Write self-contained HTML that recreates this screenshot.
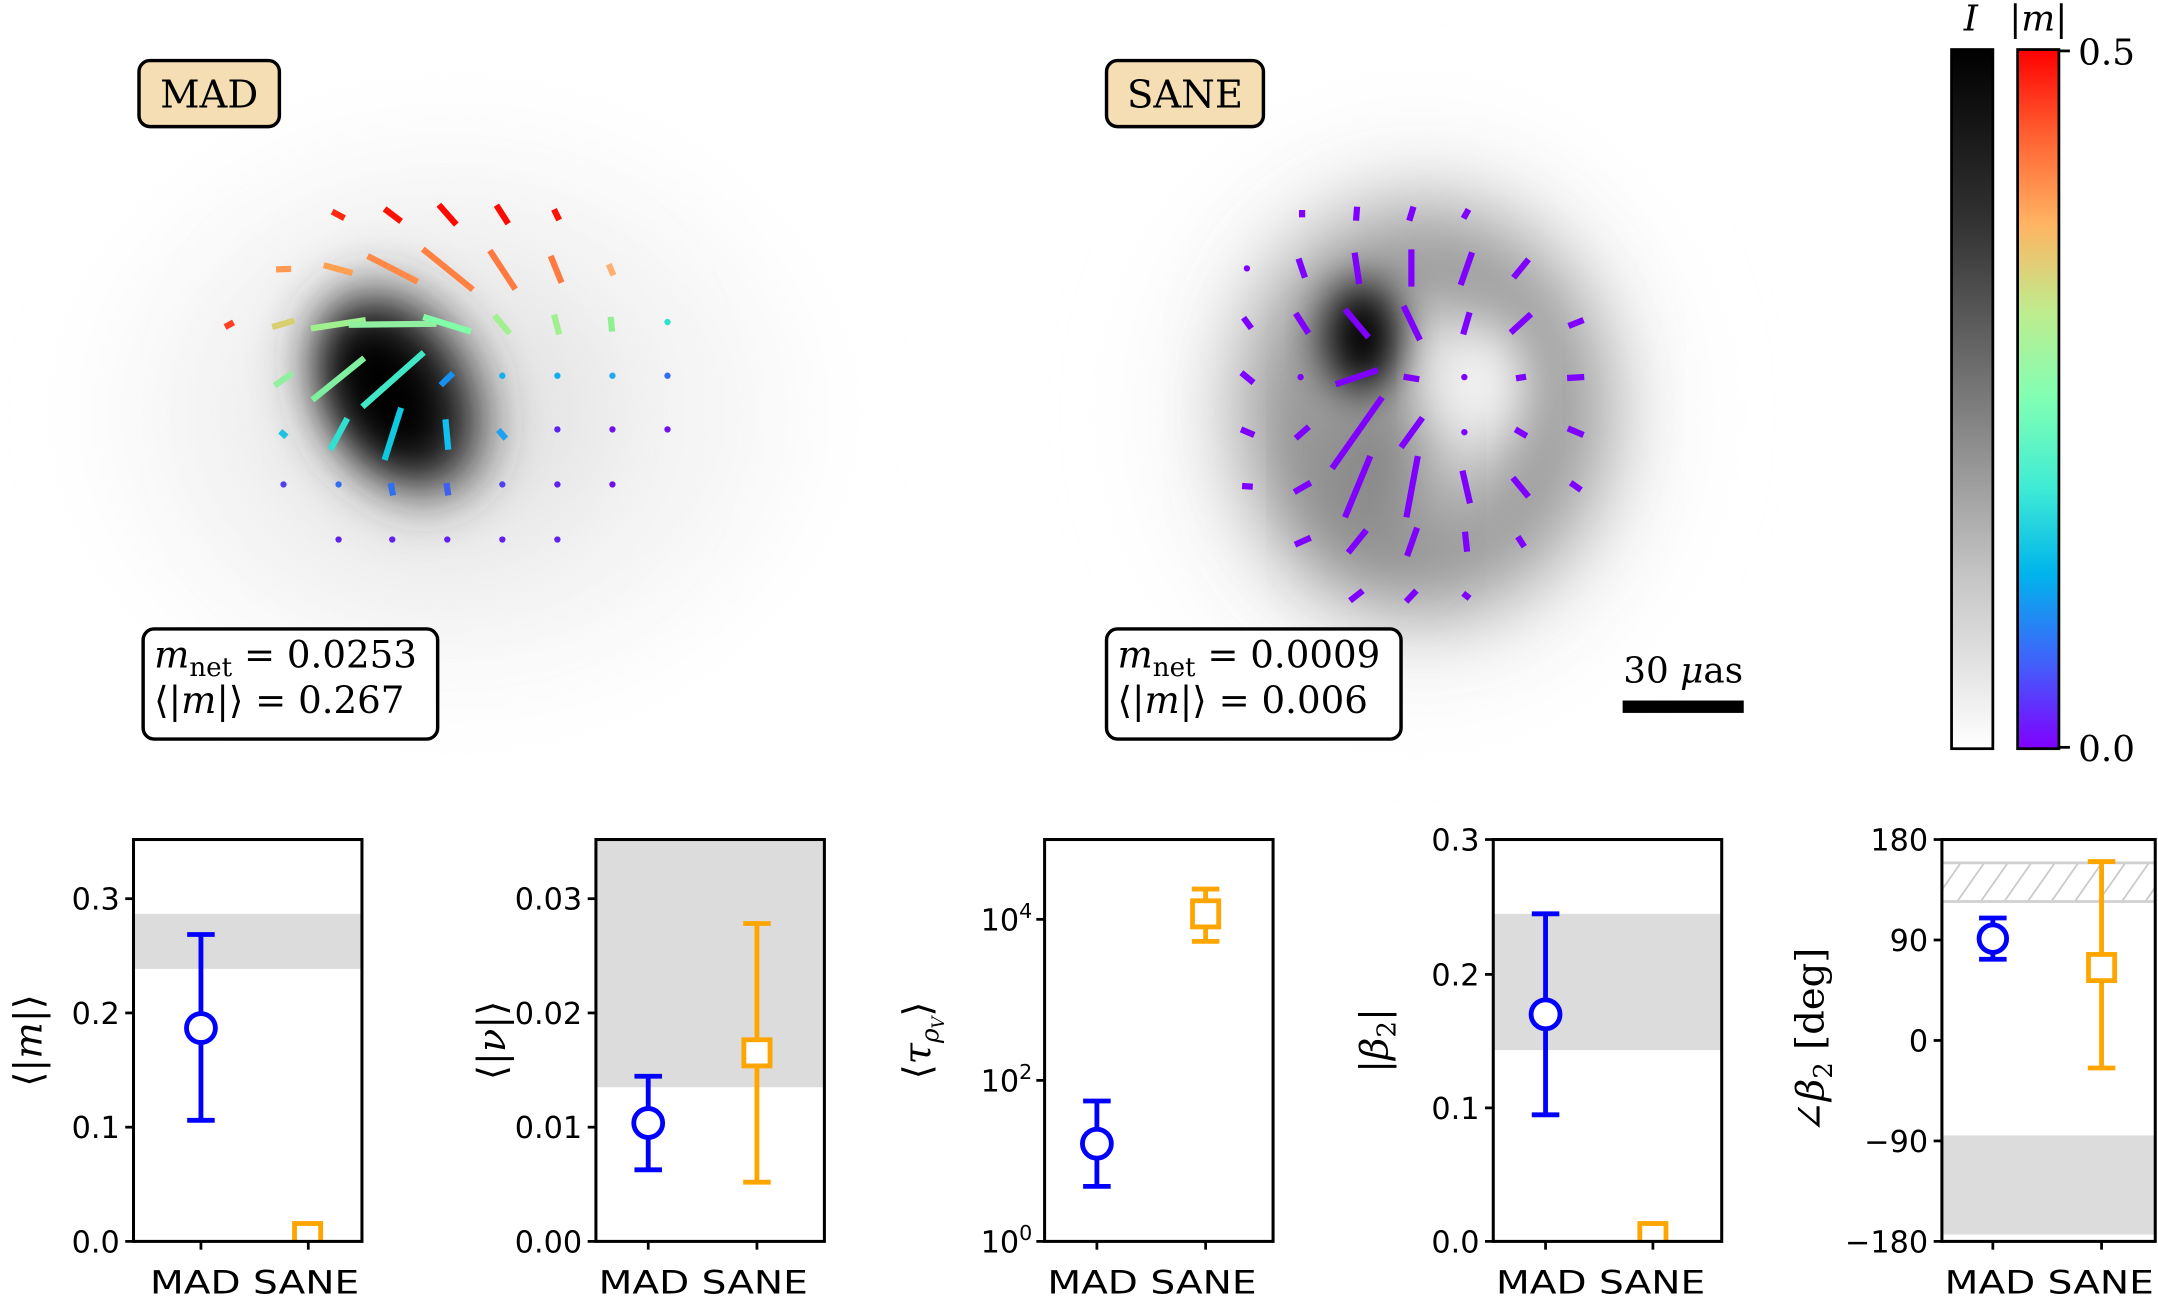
<!DOCTYPE html>
<html><head><meta charset="utf-8"><style>
html,body{margin:0;padding:0;background:#fff;}
svg{display:block;}
.tk{font-family:"DejaVu Sans","Liberation Sans",sans-serif;font-size:22px;fill:#000;}
.xt{font-family:"DejaVu Sans","Liberation Sans",sans-serif;font-size:23px;fill:#000;}
.sf{font-family:"DejaVu Serif","Liberation Serif",serif;fill:#000;}
</style></head><body>
<svg width="2158" height="1297" viewBox="0 0 1568 942.4" xmlns="http://www.w3.org/2000/svg">
<defs>
<filter id="b40" x="-50%" y="-50%" width="200%" height="200%"><feGaussianBlur stdDeviation="40"/></filter>
<filter id="b30" x="-50%" y="-50%" width="200%" height="200%"><feGaussianBlur stdDeviation="30"/></filter>
<filter id="b20" x="-50%" y="-50%" width="200%" height="200%"><feGaussianBlur stdDeviation="20"/></filter>
<filter id="b15" x="-50%" y="-50%" width="200%" height="200%"><feGaussianBlur stdDeviation="15"/></filter>
<linearGradient id="gI" x1="0" y1="0" x2="0" y2="1">
<stop offset="0" stop-color="#000"/><stop offset="0.25" stop-color="#333"/><stop offset="0.5" stop-color="#7a7a7a"/><stop offset="0.75" stop-color="#c4c4c4"/><stop offset="1" stop-color="#fff"/></linearGradient>
<linearGradient id="gM" x1="0" y1="1" x2="0" y2="0">
<stop offset="0" stop-color="#8000ff"/><stop offset="0.125" stop-color="#4062fa"/><stop offset="0.25" stop-color="#00b4ec"/><stop offset="0.375" stop-color="#40ecd4"/><stop offset="0.5" stop-color="#80ffb4"/><stop offset="0.625" stop-color="#bfec8e"/><stop offset="0.75" stop-color="#ffb462"/><stop offset="0.875" stop-color="#ff6232"/><stop offset="1" stop-color="#ff0000"/></linearGradient>
<pattern id="hat" width="14" height="14" patternUnits="userSpaceOnUse" patternTransform="rotate(35)">
<line x1="0" y1="0" x2="0" y2="14" stroke="#c8c8c8" stroke-width="2.5"/></pattern>
<clipPath id="c1"><rect x="97" y="610" width="166" height="292"/></clipPath>
<clipPath id="c4"><rect x="1085" y="610" width="166" height="292"/></clipPath>
</defs>

<!-- MAD image -->
<ellipse cx="330" cy="300" rx="240" ry="190" fill="#f5f5f5" filter="url(#b40)"/>
<ellipse cx="320" cy="300" rx="130" ry="110" fill="#e4e4e4" filter="url(#b40)"/>
<ellipse cx="290" cy="285" rx="55" ry="80" fill="#333" transform="rotate(-30 290 285)" filter="url(#b20)"/>
<ellipse cx="282" cy="285" rx="35" ry="55" fill="#000" transform="rotate(-30 282 285)" filter="url(#b15)"/>

<!-- SANE image -->
<ellipse cx="1030" cy="300" rx="175" ry="190" fill="#f2f2f2" filter="url(#b40)"/>
<ellipse cx="1035" cy="298" rx="95" ry="110" fill="none" stroke="#909090" stroke-width="70" filter="url(#b30)"/>
<ellipse cx="1000" cy="330" rx="40" ry="70" fill="#7a7a7a" filter="url(#b30)"/>
<ellipse cx="990" cy="245" rx="28" ry="40" fill="#000" filter="url(#b15)"/>
<ellipse cx="1075" cy="278" rx="30" ry="40" fill="#f6f6f6" filter="url(#b20)"/>

<!-- MAD quiver -->
<g transform="translate(72.66 29.06) scale(0.3429 0.3353)" stroke-width="6.2" fill="none">
<line x1="492" y1="372" x2="518" y2="386" stroke="#ff2810" vector-effect="non-scaling-stroke"/>
<line x1="603" y1="366" x2="638" y2="393" stroke="#ff1000" vector-effect="non-scaling-stroke"/>
<line x1="718" y1="357" x2="755" y2="400" stroke="#ff0800" vector-effect="non-scaling-stroke"/>
<line x1="840" y1="358" x2="865" y2="398" stroke="#ff0800" vector-effect="non-scaling-stroke"/>
<line x1="962" y1="367" x2="973" y2="390" stroke="#ff1000" vector-effect="non-scaling-stroke"/>
<line x1="373" y1="497" x2="405" y2="496" stroke="#ff9a50" vector-effect="non-scaling-stroke"/>
<line x1="474" y1="488" x2="535" y2="505" stroke="#ffa050" vector-effect="non-scaling-stroke"/>
<line x1="567" y1="468" x2="673" y2="524" stroke="#ff8a48" vector-effect="non-scaling-stroke"/>
<line x1="684" y1="453" x2="790" y2="541" stroke="#ff8040" vector-effect="non-scaling-stroke"/>
<line x1="826" y1="456" x2="880" y2="540" stroke="#ff7a40" vector-effect="non-scaling-stroke"/>
<line x1="955" y1="468" x2="978" y2="526" stroke="#ff7a40" vector-effect="non-scaling-stroke"/>
<line x1="1078" y1="486" x2="1088" y2="510" stroke="#ffb070" vector-effect="non-scaling-stroke"/>
<line x1="265" y1="622" x2="283" y2="612" stroke="#ff4020" vector-effect="non-scaling-stroke"/>
<line x1="365" y1="622" x2="412" y2="608" stroke="#d8d070" vector-effect="non-scaling-stroke"/>
<line x1="447" y1="625" x2="563" y2="607" stroke="#a0f090" vector-effect="non-scaling-stroke"/>
<line x1="527" y1="617" x2="713" y2="615" stroke="#90f0a0" vector-effect="non-scaling-stroke"/>
<line x1="685" y1="600" x2="786" y2="632" stroke="#80ffa8" vector-effect="non-scaling-stroke"/>
<line x1="836" y1="597" x2="868" y2="636" stroke="#a0f090" vector-effect="non-scaling-stroke"/>
<line x1="962" y1="595" x2="973" y2="638" stroke="#a0f090" vector-effect="non-scaling-stroke"/>
<line x1="1082" y1="600" x2="1085" y2="632" stroke="#90f090" vector-effect="non-scaling-stroke"/>
<line x1="370" y1="749" x2="408" y2="722" stroke="#90f0a0" vector-effect="non-scaling-stroke"/>
<line x1="450" y1="780" x2="560" y2="689" stroke="#80f0a0" vector-effect="non-scaling-stroke"/>
<line x1="556" y1="795" x2="686" y2="677" stroke="#40e8c8" vector-effect="non-scaling-stroke"/>
<line x1="722" y1="748" x2="748" y2="722" stroke="#1890f0" vector-effect="non-scaling-stroke"/>
<line x1="382" y1="848" x2="395" y2="860" stroke="#20c0e0" vector-effect="non-scaling-stroke"/>
<line x1="488" y1="888" x2="524" y2="820" stroke="#30e0d0" vector-effect="non-scaling-stroke"/>
<line x1="603" y1="910" x2="638" y2="797" stroke="#10c8e0" vector-effect="non-scaling-stroke"/>
<line x1="732" y1="822" x2="738" y2="888" stroke="#10c0f0" vector-effect="non-scaling-stroke"/>
<line x1="844" y1="845" x2="860" y2="864" stroke="#20a0f0" vector-effect="non-scaling-stroke"/>
<line x1="616" y1="960" x2="621" y2="987" stroke="#3070f0" vector-effect="non-scaling-stroke"/>
<line x1="734" y1="960" x2="738" y2="987" stroke="#4060f0" vector-effect="non-scaling-stroke"/>
</g>
<g>
<circle cx="485" cy="234" r="2.3" fill="#30e0d0"/>
<circle cx="365" cy="273" r="2.3" fill="#10b0f0"/><circle cx="405" cy="273" r="2.3" fill="#10b0f0"/><circle cx="445" cy="273" r="2.3" fill="#20a8f0"/><circle cx="485" cy="273" r="2.3" fill="#3070f0"/>
<circle cx="405" cy="312" r="2.3" fill="#6020f0"/><circle cx="445" cy="312" r="2.3" fill="#7010f0"/><circle cx="485" cy="312" r="2.3" fill="#7010f0"/>
<circle cx="206" cy="352" r="2.3" fill="#5040f0"/><circle cx="246" cy="352" r="2.3" fill="#3070f0"/><circle cx="365" cy="352" r="2.3" fill="#5040f0"/><circle cx="405" cy="352" r="2.3" fill="#6020f0"/><circle cx="445" cy="352" r="2.3" fill="#7010f0"/>
<circle cx="246" cy="392" r="2.3" fill="#6020f0"/><circle cx="285" cy="392" r="2.3" fill="#6020f0"/><circle cx="325" cy="392" r="2.3" fill="#6020f0"/><circle cx="365" cy="392" r="2.3" fill="#6020f0"/><circle cx="405" cy="392" r="2.3" fill="#6020f0"/>
</g>

<!-- SANE quiver -->
<g transform="translate(762.9 109.0) scale(0.2595 0.2422)" stroke="#7f00ff" stroke-width="6.2" fill="none">
<line x1="706" y1="180" x2="706" y2="202" vector-effect="non-scaling-stroke"/>
<line x1="860" y1="170" x2="857" y2="212" vector-effect="non-scaling-stroke"/>
<line x1="1018" y1="170" x2="1006" y2="212" vector-effect="non-scaling-stroke"/>
<line x1="1172" y1="178" x2="1158" y2="205" vector-effect="non-scaling-stroke"/>
<line x1="696" y1="326" x2="714" y2="383" vector-effect="non-scaling-stroke"/>
<line x1="853" y1="308" x2="866" y2="402" vector-effect="non-scaling-stroke"/>
<line x1="1012" y1="298" x2="1012" y2="410" vector-effect="non-scaling-stroke"/>
<line x1="1182" y1="307" x2="1150" y2="405" vector-effect="non-scaling-stroke"/>
<line x1="1340" y1="328" x2="1298" y2="383" vector-effect="non-scaling-stroke"/>
<line x1="542" y1="503" x2="564" y2="535" vector-effect="non-scaling-stroke"/>
<line x1="688" y1="490" x2="724" y2="550" vector-effect="non-scaling-stroke"/>
<line x1="826" y1="478" x2="892" y2="562" vector-effect="non-scaling-stroke"/>
<line x1="990" y1="468" x2="1036" y2="570" vector-effect="non-scaling-stroke"/>
<line x1="1175" y1="487" x2="1157" y2="553" vector-effect="non-scaling-stroke"/>
<line x1="1347" y1="492" x2="1290" y2="548" vector-effect="non-scaling-stroke"/>
<line x1="1494" y1="510" x2="1452" y2="528" vector-effect="non-scaling-stroke"/>
<line x1="536" y1="668" x2="570" y2="698" vector-effect="non-scaling-stroke"/>
<line x1="800" y1="703" x2="918" y2="660" vector-effect="non-scaling-stroke"/>
<line x1="990" y1="680" x2="1034" y2="688" vector-effect="non-scaling-stroke"/>
<line x1="1305" y1="685" x2="1333" y2="680" vector-effect="non-scaling-stroke"/>
<line x1="1448" y1="684" x2="1496" y2="681" vector-effect="non-scaling-stroke"/>
<line x1="535" y1="838" x2="572" y2="855" vector-effect="non-scaling-stroke"/>
<line x1="725" y1="830" x2="688" y2="865" vector-effect="non-scaling-stroke"/>
<line x1="930" y1="742" x2="790" y2="955" vector-effect="non-scaling-stroke"/>
<line x1="1043" y1="803" x2="983" y2="892" vector-effect="non-scaling-stroke"/>
<line x1="1303" y1="838" x2="1335" y2="858" vector-effect="non-scaling-stroke"/>
<line x1="1450" y1="835" x2="1494" y2="855" vector-effect="non-scaling-stroke"/>
<line x1="538" y1="1008" x2="568" y2="1010" vector-effect="non-scaling-stroke"/>
<line x1="730" y1="998" x2="684" y2="1026" vector-effect="non-scaling-stroke"/>
<line x1="897" y1="918" x2="826" y2="1102" vector-effect="non-scaling-stroke"/>
<line x1="1030" y1="918" x2="998" y2="1102" vector-effect="non-scaling-stroke"/>
<line x1="1155" y1="962" x2="1176" y2="1060" vector-effect="non-scaling-stroke"/>
<line x1="1296" y1="983" x2="1340" y2="1040" vector-effect="non-scaling-stroke"/>
<line x1="1458" y1="998" x2="1487" y2="1020" vector-effect="non-scaling-stroke"/>
<line x1="686" y1="1184" x2="730" y2="1163" vector-effect="non-scaling-stroke"/>
<line x1="886" y1="1140" x2="835" y2="1208" vector-effect="non-scaling-stroke"/>
<line x1="1028" y1="1133" x2="1000" y2="1218" vector-effect="non-scaling-stroke"/>
<line x1="1162" y1="1145" x2="1168" y2="1205" vector-effect="non-scaling-stroke"/>
<line x1="1310" y1="1160" x2="1328" y2="1190" vector-effect="non-scaling-stroke"/>
<line x1="840" y1="1352" x2="876" y2="1322" vector-effect="non-scaling-stroke"/>
<line x1="997" y1="1355" x2="1026" y2="1322" vector-effect="non-scaling-stroke"/>
<line x1="1157" y1="1330" x2="1175" y2="1345" vector-effect="non-scaling-stroke"/>
</g>
<circle cx="906" cy="195" r="2.3" fill="#7f00ff"/>
<circle cx="945" cy="274" r="2.3" fill="#7f00ff"/>
<circle cx="1064" cy="274" r="2.3" fill="#7f00ff"/>
<circle cx="1064" cy="314" r="2.3" fill="#7f00ff"/>

<!-- labels top -->
<rect x="101" y="44" width="102" height="48" rx="8" fill="#f5deb3" stroke="#000" stroke-width="2.5"/>
<text x="152" y="78" class="sf" font-size="28" text-anchor="middle">MAD</text>
<rect x="804" y="44" width="114" height="48" rx="8" fill="#f5deb3" stroke="#000" stroke-width="2.5"/>
<text x="861" y="78" class="sf" font-size="28" text-anchor="middle">SANE</text>

<rect x="104" y="457" width="214" height="80" rx="8" fill="#fff" stroke="#000" stroke-width="2.5"/>
<text x="112" y="485" class="sf" font-size="27"><tspan font-style="italic">m</tspan><tspan font-size="19" dy="6">net</tspan><tspan dy="-6"> = 0.0253</tspan></text>
<text x="112" y="518" class="sf" font-size="27">⟨|<tspan font-style="italic">m</tspan>|⟩ = 0.267</text>
<rect x="804" y="457" width="214" height="80" rx="8" fill="#fff" stroke="#000" stroke-width="2.5"/>
<text x="812" y="485" class="sf" font-size="27"><tspan font-style="italic">m</tspan><tspan font-size="19" dy="6">net</tspan><tspan dy="-6"> = 0.0009</tspan></text>
<text x="812" y="518" class="sf" font-size="27">⟨|<tspan font-style="italic">m</tspan>|⟩ = 0.006</text>

<text x="1223" y="496" class="sf" font-size="26" text-anchor="middle">30 <tspan font-style="italic">μ</tspan>as</text>
<rect x="1179" y="509" width="88" height="9" fill="#000"/>

<!-- colorbars -->
<rect x="1418" y="36" width="30" height="508" fill="url(#gI)" stroke="#000" stroke-width="2"/>
<rect x="1466" y="36" width="30" height="508" fill="url(#gM)" stroke="#000" stroke-width="2"/>
<text x="1432" y="22" class="sf" font-size="26" font-style="italic" text-anchor="middle">I</text>
<text x="1481" y="22" class="sf" font-size="26" text-anchor="middle">|<tspan font-style="italic">m</tspan>|</text>
<line x1="1496" y1="37" x2="1504" y2="37" stroke="#000" stroke-width="2"/>
<line x1="1496" y1="543" x2="1504" y2="543" stroke="#000" stroke-width="2"/>
<text x="1510" y="47" class="sf" font-size="26">0.5</text>
<text x="1510" y="553" class="sf" font-size="26">0.0</text>

<!-- Panel 1 -->
<rect x="97" y="664" width="166" height="40" fill="#dcdcdc"/>
<g stroke="#0000ff" stroke-width="3.5" fill="none">
<line x1="146" y1="679" x2="146" y2="814"/><line x1="136" y1="679" x2="156" y2="679"/><line x1="136" y1="814" x2="156" y2="814"/>
<circle cx="146" cy="747" r="10.5" fill="#fff"/></g>
<g clip-path="url(#c1)"><rect x="214" y="889" width="19" height="19" fill="#fff" stroke="#ffa500" stroke-width="3.5"/></g>
<rect x="97" y="610" width="166" height="292" fill="none" stroke="#000" stroke-width="2.2"/>
<g stroke="#000" stroke-width="2"><line x1="91" y1="902" x2="97" y2="902"/><line x1="91" y1="819" x2="97" y2="819"/><line x1="91" y1="736" x2="97" y2="736"/><line x1="91" y1="653" x2="97" y2="653"/><line x1="146" y1="902" x2="146" y2="908"/><line x1="224" y1="902" x2="224" y2="908"/></g>
<g class="tk" text-anchor="end"><text x="87" y="910">0.0</text><text x="87" y="827">0.1</text><text x="87" y="744">0.2</text><text x="87" y="661">0.3</text></g>
<text x="185" y="940" class="xt" text-anchor="middle" textLength="152" lengthAdjust="spacingAndGlyphs">MAD SANE</text>
<text transform="translate(30 756) rotate(-90)" class="sf" font-size="28" text-anchor="middle">⟨|<tspan font-style="italic">m</tspan>|⟩</text>

<!-- Panel 2 -->
<rect x="433" y="610" width="166" height="180" fill="#dcdcdc"/>
<g stroke="#0000ff" stroke-width="3.5" fill="none">
<line x1="471" y1="782" x2="471" y2="850"/><line x1="461" y1="782" x2="481" y2="782"/><line x1="461" y1="850" x2="481" y2="850"/>
<circle cx="471" cy="816" r="10.5" fill="#fff"/></g>
<g stroke="#ffa500" stroke-width="3.5" fill="none">
<line x1="550" y1="671" x2="550" y2="859"/><line x1="540" y1="671" x2="560" y2="671"/><line x1="540" y1="859" x2="560" y2="859"/>
<rect x="540.5" y="755.5" width="19" height="19" fill="#fff"/></g>
<rect x="433" y="610" width="166" height="292" fill="none" stroke="#000" stroke-width="2.2"/>
<g stroke="#000" stroke-width="2"><line x1="427" y1="902" x2="433" y2="902"/><line x1="427" y1="819" x2="433" y2="819"/><line x1="427" y1="736" x2="433" y2="736"/><line x1="427" y1="653" x2="433" y2="653"/><line x1="471" y1="902" x2="471" y2="908"/><line x1="550" y1="902" x2="550" y2="908"/></g>
<g class="tk" text-anchor="end"><text x="423" y="910">0.00</text><text x="423" y="827">0.01</text><text x="423" y="744">0.02</text><text x="423" y="661">0.03</text></g>
<text x="511" y="940" class="xt" text-anchor="middle" textLength="152" lengthAdjust="spacingAndGlyphs">MAD SANE</text>
<text transform="translate(367 756) rotate(-90)" class="sf" font-size="28" text-anchor="middle">⟨|<tspan font-style="italic">ν</tspan>|⟩</text>

<!-- Panel 3 -->
<g stroke="#0000ff" stroke-width="3.5" fill="none">
<line x1="797" y1="800" x2="797" y2="862"/><line x1="787" y1="800" x2="807" y2="800"/><line x1="787" y1="862" x2="807" y2="862"/>
<circle cx="797" cy="831" r="10.5" fill="#fff"/></g>
<g stroke="#ffa500" stroke-width="3.5" fill="none">
<line x1="876" y1="646" x2="876" y2="684"/><line x1="866" y1="646" x2="886" y2="646"/><line x1="866" y1="684" x2="886" y2="684"/>
<rect x="866.5" y="654.5" width="19" height="19" fill="#fff"/></g>
<rect x="759" y="610" width="166" height="292" fill="none" stroke="#000" stroke-width="2.2"/>
<g stroke="#000" stroke-width="2"><line x1="753" y1="902" x2="759" y2="902"/><line x1="753" y1="785" x2="759" y2="785"/><line x1="753" y1="668" x2="759" y2="668"/><line x1="797" y1="902" x2="797" y2="908"/><line x1="876" y1="902" x2="876" y2="908"/></g>
<g class="tk" text-anchor="end"><text x="750" y="910">10<tspan font-size="15" dy="-9">0</tspan></text><text x="750" y="793">10<tspan font-size="15" dy="-9">2</tspan></text><text x="750" y="676">10<tspan font-size="15" dy="-9">4</tspan></text></g>
<text x="837" y="940" class="xt" text-anchor="middle" textLength="152" lengthAdjust="spacingAndGlyphs">MAD SANE</text>
<text transform="translate(676 756) rotate(-90)" class="sf" font-size="28" text-anchor="middle">⟨<tspan font-style="italic">τ</tspan><tspan font-size="18" font-style="italic" dy="6">ρ</tspan><tspan font-size="12" font-style="italic" dy="4">V</tspan><tspan dy="-10">⟩</tspan></text>

<!-- Panel 4 -->
<rect x="1085" y="664" width="166" height="99" fill="#dcdcdc"/>
<g stroke="#0000ff" stroke-width="3.5" fill="none">
<line x1="1123" y1="664" x2="1123" y2="810"/><line x1="1113" y1="664" x2="1133" y2="664"/><line x1="1113" y1="810" x2="1133" y2="810"/>
<circle cx="1123" cy="737" r="10.5" fill="#fff"/></g>
<g clip-path="url(#c4)"><rect x="1191.5" y="889" width="19" height="19" fill="#fff" stroke="#ffa500" stroke-width="3.5"/></g>
<rect x="1085" y="610" width="166" height="292" fill="none" stroke="#000" stroke-width="2.2"/>
<g stroke="#000" stroke-width="2"><line x1="1079" y1="902" x2="1085" y2="902"/><line x1="1079" y1="805" x2="1085" y2="805"/><line x1="1079" y1="708" x2="1085" y2="708"/><line x1="1079" y1="610" x2="1085" y2="610"/><line x1="1123" y1="902" x2="1123" y2="908"/><line x1="1201" y1="902" x2="1201" y2="908"/></g>
<g class="tk" text-anchor="end"><text x="1075" y="910">0.0</text><text x="1075" y="813">0.1</text><text x="1075" y="716">0.2</text><text x="1075" y="618">0.3</text></g>
<text x="1163" y="940" class="xt" text-anchor="middle" textLength="152" lengthAdjust="spacingAndGlyphs">MAD SANE</text>
<text transform="translate(1008 756) rotate(-90)" class="sf" font-size="28" text-anchor="middle">|<tspan font-style="italic">β</tspan><tspan font-size="19" dy="6">2</tspan><tspan dy="-6">|</tspan></text>

<!-- Panel 5 -->
<rect x="1411" y="825" width="155" height="72" fill="#dcdcdc"/>
<rect x="1411" y="626" width="155" height="29" fill="url(#hat)"/>
<line x1="1411" y1="627" x2="1566" y2="627" stroke="#d0d0d0" stroke-width="2"/>
<line x1="1411" y1="655" x2="1566" y2="655" stroke="#d0d0d0" stroke-width="2"/>
<g stroke="#0000ff" stroke-width="3.5" fill="none">
<line x1="1448" y1="667" x2="1448" y2="697"/><line x1="1438" y1="667" x2="1458" y2="667"/><line x1="1438" y1="697" x2="1458" y2="697"/>
<circle cx="1448" cy="682" r="10" fill="#fff"/></g>
<g stroke="#ffa500" stroke-width="3.5" fill="none">
<line x1="1527" y1="626" x2="1527" y2="776"/><line x1="1517" y1="626" x2="1537" y2="626"/><line x1="1517" y1="776" x2="1537" y2="776"/>
<rect x="1517.5" y="693.5" width="19" height="19" fill="#fff"/></g>
<rect x="1411" y="610" width="155" height="292" fill="none" stroke="#000" stroke-width="2.2"/>
<g stroke="#000" stroke-width="2"><line x1="1405" y1="902" x2="1411" y2="902"/><line x1="1405" y1="829" x2="1411" y2="829"/><line x1="1405" y1="756" x2="1411" y2="756"/><line x1="1405" y1="683" x2="1411" y2="683"/><line x1="1405" y1="610" x2="1411" y2="610"/><line x1="1448" y1="902" x2="1448" y2="908"/><line x1="1527" y1="902" x2="1527" y2="908"/></g>
<g class="tk" text-anchor="end"><text x="1401" y="910">−180</text><text x="1401" y="837">−90</text><text x="1401" y="764">0</text><text x="1401" y="691">90</text><text x="1401" y="618">180</text></g>
<text x="1489" y="940" class="xt" text-anchor="middle" textLength="152" lengthAdjust="spacingAndGlyphs">MAD SANE</text>
<text transform="translate(1325 756) rotate(-90)" class="sf" font-size="28" text-anchor="middle">∠<tspan font-style="italic">β</tspan><tspan font-size="19" dy="6">2</tspan><tspan dy="-6"> [deg]</tspan></text>
</svg>
</body></html>
